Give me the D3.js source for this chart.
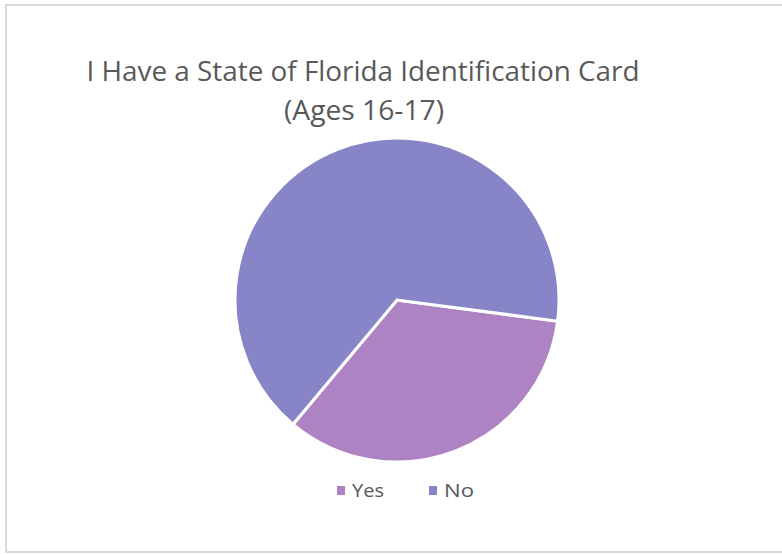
<!DOCTYPE html>
<html>
<head>
<meta charset="utf-8">
<script src="https://cdn.jsdelivr.net/npm/d3@7"></script>
<style>
  html, body { margin: 0; padding: 0; background: #fff; }
  svg { display: block; }
</style>
</head>
<body>
<svg id="chart" width="782" height="554"></svg>
<script>
const categories = ["Yes", "No"];
const values = [34, 66];
const colors = ["#ae83c4", "#8784c7"];
const titleLines = ["I Have a State of Florida Identification Card", "(Ages 16-17)"];

const svg = d3.select("#chart");

// chart border
svg.append("rect")
  .attr("x", 6).attr("y", 5)
  .attr("width", 790).attr("height", 547)
  .attr("fill", "#fff")
  .attr("stroke", "#d9d9d9")
  .attr("stroke-width", 2);

// title
const title = svg.append("text")
  .attr("fill", "#595959")
  .attr("font-family", "'Open Sans', 'Noto Sans', sans-serif")
  .attr("font-weight", 400)
  .attr("font-size", 28)
  .attr("text-anchor", "middle");
title.append("tspan").attr("x", 363).attr("y", 81).text(titleLines[0])
  .attr("textLength", 553).attr("lengthAdjust", "spacingAndGlyphs");
title.append("tspan").attr("x", 364).attr("y", 120).text(titleLines[1])
  .attr("textLength", 160).attr("lengthAdjust", "spacingAndGlyphs");

// pie
const cx = 397, cy = 300, r = 162;
const start = 97.5 * Math.PI / 180;
const pie = d3.pie().sort(null).value(d => d.v)
  .startAngle(start).endAngle(start + 2 * Math.PI);
const arc = d3.arc().innerRadius(0).outerRadius(r);
const data = categories.map((c, i) => ({ c, v: values[i], col: colors[i] }));

svg.append("g").attr("transform", `translate(${cx},${cy})`)
  .selectAll("path")
  .data(pie(data))
  .join("path")
  .attr("d", arc)
  .attr("fill", d => d.data.col)
  .attr("stroke", "#fff")
  .attr("stroke-width", 3)
  .attr("stroke-linejoin", "miter");

// legend
const legendX = [337, 429];
const legendW = [32, 30];
const lg = svg.append("g");
data.forEach((d, i) => {
  lg.append("rect")
    .attr("x", legendX[i]).attr("y", 486)
    .attr("width", 8).attr("height", 9)
    .attr("fill", d.col);
  lg.append("text")
    .attr("x", legendX[i] + 15).attr("y", 497)
    .attr("fill", "#595959")
    .attr("font-family", "'Open Sans', 'Noto Sans', sans-serif")
    .attr("font-size", 19)
    .attr("textLength", legendW[i]).attr("lengthAdjust", "spacingAndGlyphs")
    .text(d.c);
});
</script>
</body>
</html>
